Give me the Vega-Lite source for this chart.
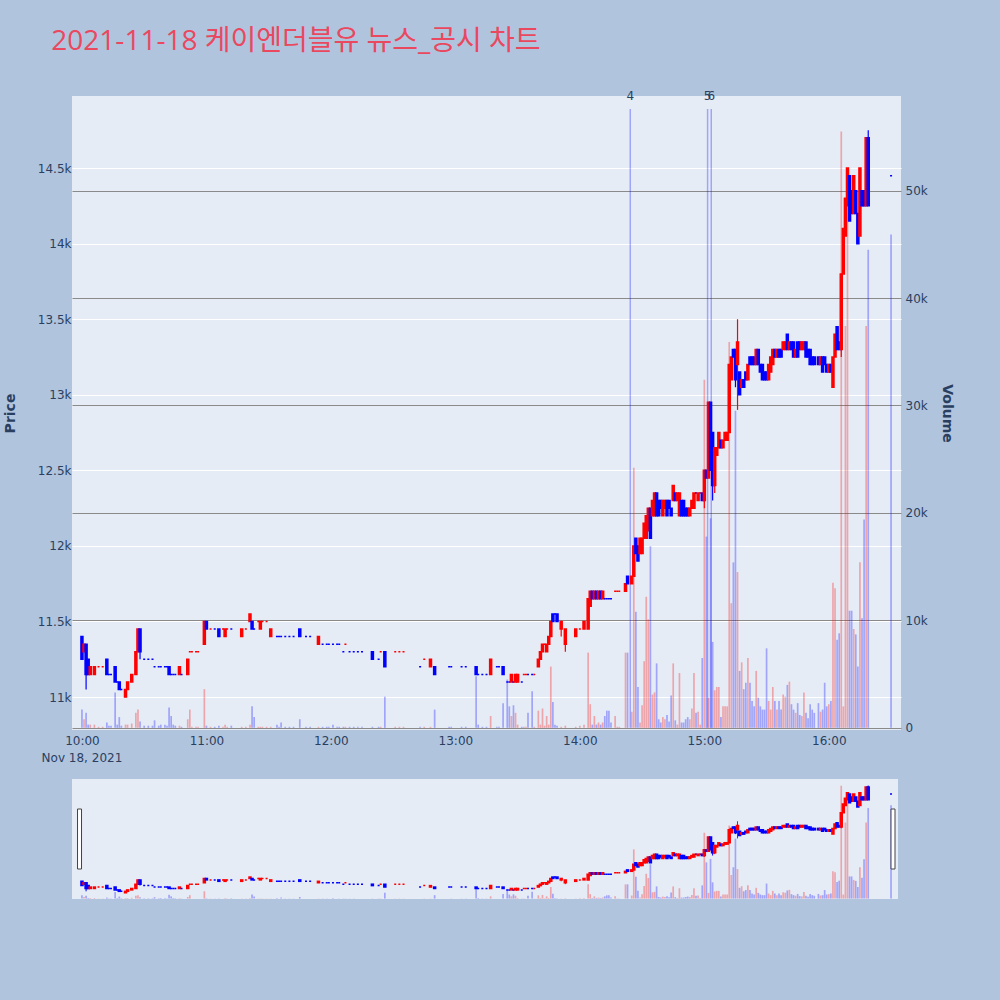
{
"$schema":"https://vega.github.io/schema/vega-lite/v6.json",
"background":"#B0C4DE",
"padding":{"left":3,"top":28,"right":47,"bottom":102},
"title":{"text":"2021-11-18 케이엔더블유 뉴스_공시 차트","anchor":"start","dx":48,"font":"Open Sans, Noto Sans CJK KR","fontSize":28,"fontWeight":"normal","color":"#E9485F","offset":34},
"config":{"view":{"fill":"#E5ECF6","stroke":null},"axis":{"labelFont":"DejaVu Sans","labelFontSize":12,"labelColor":"#2a3f5f","titleFont":"DejaVu Sans","titleFontSize":14,"titleFontWeight":"bold","titleColor":"#2a3f5f","ticks":false,"domain":false}},
"datasets":{
"k":[
{"t":"2021-11-18T10:00","o":11400,"c":11250,"v":1700},
{"t":"2021-11-18T10:01","o":11300,"c":11350,"v":800},
{"t":"2021-11-18T10:02","o":11350,"c":11150,"h":11350,"l":11050,"v":1400},
{"t":"2021-11-18T10:03","o":11250,"c":11150,"v":300},
{"t":"2021-11-18T10:04","o":11150,"c":11200,"v":300},
{"t":"2021-11-18T10:06","o":11150,"c":11200,"v":300},
{"t":"2021-11-18T10:08","o":11200,"c":11200,"v":100,"u":1},
{"t":"2021-11-18T10:10","o":11200,"c":11200,"v":100,"u":1},
{"t":"2021-11-18T10:12","o":11250,"c":11150,"v":500},
{"t":"2021-11-18T10:13","o":11150,"c":11150,"v":200},
{"t":"2021-11-18T10:14","o":11150,"c":11150,"v":200},
{"t":"2021-11-18T10:16","o":11200,"c":11100,"v":3300},
{"t":"2021-11-18T10:17","o":11100,"c":11100,"v":300},
{"t":"2021-11-18T10:18","o":11100,"c":11050,"v":1000},
{"t":"2021-11-18T10:19","o":11050,"c":11050,"v":200},
{"t":"2021-11-18T10:21","o":11000,"c":11050,"v":300},
{"t":"2021-11-18T10:22","o":11050,"c":11100,"v":300},
{"t":"2021-11-18T10:24","o":11100,"c":11150,"v":400},
{"t":"2021-11-18T10:26","o":11150,"c":11300,"v":1400},
{"t":"2021-11-18T10:27","o":11300,"c":11450,"v":1700},
{"t":"2021-11-18T10:28","o":11450,"c":11300,"h":11450,"l":11250,"v":600},
{"t":"2021-11-18T10:30","o":11250,"c":11250,"v":200},
{"t":"2021-11-18T10:32","o":11250,"c":11250,"v":200},
{"t":"2021-11-18T10:34","o":11250,"c":11250,"v":200},
{"t":"2021-11-18T10:35","o":11200,"c":11200,"v":700},
{"t":"2021-11-18T10:37","o":11200,"c":11200,"v":200},
{"t":"2021-11-18T10:38","o":11200,"c":11200,"v":300},
{"t":"2021-11-18T10:40","o":11200,"c":11200,"v":300},
{"t":"2021-11-18T10:41","o":11200,"c":11200,"v":200},
{"t":"2021-11-18T10:42","o":11200,"c":11150,"v":1900},
{"t":"2021-11-18T10:43","o":11150,"c":11150,"v":1100},
{"t":"2021-11-18T10:44","o":11150,"c":11150,"v":300},
{"t":"2021-11-18T10:45","o":11150,"c":11150,"v":200},
{"t":"2021-11-18T10:47","o":11150,"c":11200,"v":200},
{"t":"2021-11-18T10:48","o":11150,"c":11150,"v":100},
{"t":"2021-11-18T10:51","o":11150,"c":11250,"v":800},
{"t":"2021-11-18T10:52","o":11300,"c":11300,"v":1700,"u":1},
{"t":"2021-11-18T10:53","o":11300,"c":11300,"v":100,"u":1},
{"t":"2021-11-18T10:55","o":11300,"c":11300,"v":100,"u":1},
{"t":"2021-11-18T10:56","o":11300,"c":11300,"v":100,"u":1},
{"t":"2021-11-18T10:59","o":11350,"c":11500,"v":3600},
{"t":"2021-11-18T11:00","o":11500,"c":11450,"v":200},
{"t":"2021-11-18T11:02","o":11450,"c":11450,"v":100,"u":1},
{"t":"2021-11-18T11:04","o":11450,"c":11450,"v":100},
{"t":"2021-11-18T11:06","o":11450,"c":11400,"v":200},
{"t":"2021-11-18T11:08","o":11450,"c":11450,"v":100,"u":1},
{"t":"2021-11-18T11:09","o":11400,"c":11450,"v":300},
{"t":"2021-11-18T11:10","o":11450,"c":11450,"v":100,"u":1},
{"t":"2021-11-18T11:12","o":11450,"c":11450,"v":200},
{"t":"2021-11-18T11:17","o":11400,"c":11450,"v":100},
{"t":"2021-11-18T11:19","o":11450,"c":11450,"v":100,"u":1},
{"t":"2021-11-18T11:21","o":11500,"c":11550,"v":300},
{"t":"2021-11-18T11:22","o":11500,"c":11450,"v":2000},
{"t":"2021-11-18T11:23","o":11450,"c":11450,"v":1000},
{"t":"2021-11-18T11:25","o":11500,"c":11500,"v":100,"u":1},
{"t":"2021-11-18T11:26","o":11450,"c":11500,"v":100},
{"t":"2021-11-18T11:27","o":11500,"c":11500,"v":100,"u":1},
{"t":"2021-11-18T11:29","o":11500,"c":11500,"v":100,"u":1},
{"t":"2021-11-18T11:31","o":11400,"c":11450,"v":100},
{"t":"2021-11-18T11:34","o":11400,"c":11400,"v":300},
{"t":"2021-11-18T11:35","o":11400,"c":11400,"v":100},
{"t":"2021-11-18T11:36","o":11400,"c":11400,"v":500},
{"t":"2021-11-18T11:38","o":11400,"c":11400,"v":100},
{"t":"2021-11-18T11:40","o":11400,"c":11400,"v":100},
{"t":"2021-11-18T11:42","o":11400,"c":11400,"v":100},
{"t":"2021-11-18T11:45","o":11450,"c":11400,"v":800},
{"t":"2021-11-18T11:48","o":11400,"c":11400,"v":100},
{"t":"2021-11-18T11:50","o":11400,"c":11400,"v":100},
{"t":"2021-11-18T11:54","o":11350,"c":11400,"v":100},
{"t":"2021-11-18T11:56","o":11350,"c":11350,"v":100},
{"t":"2021-11-18T11:58","o":11350,"c":11350,"v":100},
{"t":"2021-11-18T11:59","o":11350,"c":11350,"v":100},
{"t":"2021-11-18T12:01","o":11350,"c":11350,"v":300},
{"t":"2021-11-18T12:03","o":11350,"c":11350,"v":100},
{"t":"2021-11-18T12:04","o":11350,"c":11350,"v":100},
{"t":"2021-11-18T12:06","o":11300,"c":11300,"v":100},
{"t":"2021-11-18T12:07","o":11350,"c":11350,"v":100,"u":1},
{"t":"2021-11-18T12:09","o":11300,"c":11300,"v":100},
{"t":"2021-11-18T12:11","o":11300,"c":11300,"v":100},
{"t":"2021-11-18T12:13","o":11300,"c":11300,"v":100},
{"t":"2021-11-18T12:15","o":11300,"c":11300,"v":100},
{"t":"2021-11-18T12:20","o":11300,"c":11250,"v":100},
{"t":"2021-11-18T12:23","o":11250,"c":11250,"v":100},
{"t":"2021-11-18T12:24","o":11300,"c":11300,"v":100,"u":1},
{"t":"2021-11-18T12:26","o":11300,"c":11200,"v":2900},
{"t":"2021-11-18T12:31","o":11300,"c":11300,"v":100,"u":1},
{"t":"2021-11-18T12:33","o":11300,"c":11300,"v":100,"u":1},
{"t":"2021-11-18T12:35","o":11300,"c":11300,"v":100,"u":1},
{"t":"2021-11-18T12:43","o":11200,"c":11200,"v":100},
{"t":"2021-11-18T12:45","o":11250,"c":11250,"v":100,"u":1},
{"t":"2021-11-18T12:48","o":11200,"c":11250,"v":100},
{"t":"2021-11-18T12:50","o":11200,"c":11150,"v":1700},
{"t":"2021-11-18T12:57","o":11200,"c":11200,"v":100},
{"t":"2021-11-18T12:58","o":11200,"c":11200,"v":100},
{"t":"2021-11-18T13:03","o":11200,"c":11200,"v":100},
{"t":"2021-11-18T13:05","o":11200,"c":11200,"v":100},
{"t":"2021-11-18T13:10","o":11200,"c":11150,"v":4800},
{"t":"2021-11-18T13:11","o":11150,"c":11150,"v":300},
{"t":"2021-11-18T13:13","o":11150,"c":11150,"v":100},
{"t":"2021-11-18T13:15","o":11150,"c":11150,"v":100},
{"t":"2021-11-18T13:17","o":11150,"c":11250,"v":1100},
{"t":"2021-11-18T13:20","o":11200,"c":11200,"v":100},
{"t":"2021-11-18T13:21","o":11200,"c":11200,"v":100},
{"t":"2021-11-18T13:23","o":11200,"c":11150,"v":2300},
{"t":"2021-11-18T13:25","o":11100,"c":11100,"v":4500},
{"t":"2021-11-18T13:26","o":11100,"c":11100,"v":2000},
{"t":"2021-11-18T13:27","o":11100,"c":11150,"v":1100},
{"t":"2021-11-18T13:28","o":11100,"c":11100,"v":2100},
{"t":"2021-11-18T13:29","o":11100,"c":11150,"v":1400},
{"t":"2021-11-18T13:30","o":11100,"c":11150,"v":300},
{"t":"2021-11-18T13:32","o":11100,"c":11100,"v":100},
{"t":"2021-11-18T13:33","o":11150,"c":11150,"v":100,"u":1},
{"t":"2021-11-18T13:34","o":11150,"c":11150,"v":100,"u":1},
{"t":"2021-11-18T13:35","o":11150,"c":11150,"v":1400},
{"t":"2021-11-18T13:37","o":11150,"c":11150,"v":3400},
{"t":"2021-11-18T13:38","o":11150,"c":11150,"v":100,"u":1},
{"t":"2021-11-18T13:40","o":11200,"c":11250,"v":1600},
{"t":"2021-11-18T13:41","o":11250,"c":11300,"v":300},
{"t":"2021-11-18T13:42","o":11300,"c":11350,"v":1800},
{"t":"2021-11-18T13:43","o":11350,"c":11350,"v":200,"u":1},
{"t":"2021-11-18T13:44","o":11300,"c":11350,"v":1100},
{"t":"2021-11-18T13:45","o":11350,"c":11400,"v":300},
{"t":"2021-11-18T13:46","o":11400,"c":11500,"v":5700},
{"t":"2021-11-18T13:47","o":11550,"c":11500,"v":2400},
{"t":"2021-11-18T13:48","o":11550,"c":11550,"v":300},
{"t":"2021-11-18T13:49","o":11550,"c":11500,"v":200},
{"t":"2021-11-18T13:51","o":11450,"c":11500,"h":11500,"l":11400,"v":100},
{"t":"2021-11-18T13:53","o":11350,"c":11450,"h":11450,"l":11300,"v":200},
{"t":"2021-11-18T13:58","o":11400,"c":11450,"v":100},
{"t":"2021-11-18T14:00","o":11450,"c":11450,"v":200,"u":1},
{"t":"2021-11-18T14:02","o":11450,"c":11500,"v":300},
{"t":"2021-11-18T14:04","o":11450,"c":11650,"v":7000},
{"t":"2021-11-18T14:05","o":11600,"c":11700,"v":2200},
{"t":"2021-11-18T14:06","o":11700,"c":11650,"v":300},
{"t":"2021-11-18T14:07","o":11650,"c":11700,"v":1100},
{"t":"2021-11-18T14:08","o":11700,"c":11650,"v":300},
{"t":"2021-11-18T14:09","o":11650,"c":11700,"v":500},
{"t":"2021-11-18T14:10","o":11700,"c":11650,"v":300},
{"t":"2021-11-18T14:11","o":11650,"c":11700,"v":500},
{"t":"2021-11-18T14:12","o":11650,"c":11650,"v":1100},
{"t":"2021-11-18T14:13","o":11650,"c":11650,"v":1600},
{"t":"2021-11-18T14:14","o":11650,"c":11650,"v":1600},
{"t":"2021-11-18T14:15","o":11650,"c":11650,"v":500},
{"t":"2021-11-18T14:17","o":11700,"c":11700,"v":1100,"u":1},
{"t":"2021-11-18T14:18","o":11700,"c":11700,"v":100,"u":1},
{"t":"2021-11-18T14:19","o":11700,"c":11700,"v":100,"u":1},
{"t":"2021-11-18T14:22","o":11700,"c":11750,"v":7000},
{"t":"2021-11-18T14:23","o":11800,"c":11750,"v":7000},
{"t":"2021-11-18T14:25","o":11750,"c":11800,"v":1500},
{"t":"2021-11-18T14:26","o":11800,"c":12000,"v":24200},
{"t":"2021-11-18T14:27","o":12050,"c":11950,"v":10800},
{"t":"2021-11-18T14:28","o":12000,"c":11900,"v":3800},
{"t":"2021-11-18T14:29","o":11950,"c":12050,"v":500},
{"t":"2021-11-18T14:30","o":11950,"c":12050,"v":2100},
{"t":"2021-11-18T14:31","o":12050,"c":12150,"v":6200},
{"t":"2021-11-18T14:32","o":12050,"c":12200,"v":12200},
{"t":"2021-11-18T14:33","o":12100,"c":12250,"v":10100},
{"t":"2021-11-18T14:34","o":12250,"c":12050,"v":16900},
{"t":"2021-11-18T14:35","o":12200,"c":12300,"v":3100},
{"t":"2021-11-18T14:36","o":12200,"c":12350,"v":3300},
{"t":"2021-11-18T14:37","o":12350,"c":12200,"v":6000},
{"t":"2021-11-18T14:38","o":12300,"c":12200,"v":800},
{"t":"2021-11-18T14:39","o":12300,"c":12250,"v":500},
{"t":"2021-11-18T14:40","o":12200,"c":12300,"v":1000},
{"t":"2021-11-18T14:41","o":12250,"c":12300,"v":800},
{"t":"2021-11-18T14:42","o":12300,"c":12200,"v":1200},
{"t":"2021-11-18T14:43","o":12300,"c":12250,"v":600},
{"t":"2021-11-18T14:44","o":12250,"c":12200,"v":3000},
{"t":"2021-11-18T14:45","o":12300,"c":12400,"v":6000},
{"t":"2021-11-18T14:46","o":12350,"c":12300,"v":700},
{"t":"2021-11-18T14:47","o":12300,"c":12350,"v":300},
{"t":"2021-11-18T14:48","o":12200,"c":12350,"v":5100},
{"t":"2021-11-18T14:49","o":12300,"c":12200,"v":500},
{"t":"2021-11-18T14:50","o":12300,"c":12200,"v":500},
{"t":"2021-11-18T14:51","o":12250,"c":12200,"v":800},
{"t":"2021-11-18T14:52","o":12250,"c":12200,"v":1000},
{"t":"2021-11-18T14:53","o":12200,"c":12250,"v":800},
{"t":"2021-11-18T14:54","o":12250,"c":12300,"v":1800},
{"t":"2021-11-18T14:55","o":12250,"c":12350,"v":5100},
{"t":"2021-11-18T14:56","o":12350,"c":12350,"v":1400},
{"t":"2021-11-18T14:57","o":12300,"c":12350,"v":1500},
{"t":"2021-11-18T14:58","o":12350,"c":12350,"v":300,"u":1},
{"t":"2021-11-18T14:59","o":12350,"c":12300,"v":6500},
{"t":"2021-11-18T15:00","o":12300,"c":12500,"h":12500,"l":12250,"v":32400},
{"t":"2021-11-18T15:01","o":12500,"c":12450,"v":17800},
{"t":"2021-11-18T15:02","o":12450,"c":12950,"v":2800},
{"t":"2021-11-18T15:03","o":12950,"c":12500,"v":19500},
{"t":"2021-11-18T15:04","o":12750,"c":12400,"h":12750,"l":12300,"v":8000},
{"t":"2021-11-18T15:05","o":12400,"c":12650,"h":12650,"l":12350,"v":3500},
{"t":"2021-11-18T15:06","o":12600,"c":12650,"v":3800},
{"t":"2021-11-18T15:07","o":12650,"c":12750,"v":3800},
{"t":"2021-11-18T15:08","o":12700,"c":12650,"v":1000},
{"t":"2021-11-18T15:09","o":12650,"c":12700,"v":2000},
{"t":"2021-11-18T15:10","o":12700,"c":12750,"v":2000},
{"t":"2021-11-18T15:11","o":12700,"c":12750,"v":2000},
{"t":"2021-11-18T15:12","o":12750,"c":13200,"v":35900},
{"t":"2021-11-18T15:13","o":13100,"c":13250,"v":11600},
{"t":"2021-11-18T15:14","o":13300,"c":13250,"v":15400},
{"t":"2021-11-18T15:15","o":13300,"c":13100,"h":13300,"l":13050,"v":29500},
{"t":"2021-11-18T15:16","o":13200,"c":13350,"h":13500,"l":12900,"v":14500},
{"t":"2021-11-18T15:17","o":13150,"c":13000,"v":5300},
{"t":"2021-11-18T15:18","o":13050,"c":13100,"v":6100},
{"t":"2021-11-18T15:19","o":13100,"c":13050,"v":3600},
{"t":"2021-11-18T15:20","o":13150,"c":13100,"v":4200},
{"t":"2021-11-18T15:21","o":13100,"c":13200,"v":6500},
{"t":"2021-11-18T15:22","o":13250,"c":13200,"v":4200},
{"t":"2021-11-18T15:23","o":13250,"c":13200,"v":2500},
{"t":"2021-11-18T15:24","o":13250,"c":13200,"v":2000},
{"t":"2021-11-18T15:25","o":13200,"c":13300,"v":5300},
{"t":"2021-11-18T15:26","o":13300,"c":13200,"v":2800},
{"t":"2021-11-18T15:27","o":13200,"c":13150,"v":2000},
{"t":"2021-11-18T15:28","o":13200,"c":13100,"v":1700},
{"t":"2021-11-18T15:29","o":13150,"c":13100,"v":1700},
{"t":"2021-11-18T15:30","o":13150,"c":13100,"v":7400},
{"t":"2021-11-18T15:31","o":13100,"c":13200,"v":2500},
{"t":"2021-11-18T15:32","o":13150,"c":13250,"v":1700},
{"t":"2021-11-18T15:33","o":13200,"c":13300,"v":3800},
{"t":"2021-11-18T15:34","o":13300,"c":13250,"v":2500},
{"t":"2021-11-18T15:35","o":13250,"c":13300,"v":1700},
{"t":"2021-11-18T15:36","o":13300,"c":13250,"v":2500},
{"t":"2021-11-18T15:37","o":13300,"c":13250,"v":1700},
{"t":"2021-11-18T15:38","o":13300,"c":13350,"v":3100},
{"t":"2021-11-18T15:39","o":13300,"c":13350,"v":2900},
{"t":"2021-11-18T15:40","o":13400,"c":13300,"v":4000},
{"t":"2021-11-18T15:41","o":13300,"c":13350,"v":4300},
{"t":"2021-11-18T15:42","o":13350,"c":13300,"v":2200},
{"t":"2021-11-18T15:43","o":13350,"c":13250,"v":1700},
{"t":"2021-11-18T15:44","o":13250,"c":13300,"v":1400},
{"t":"2021-11-18T15:45","o":13350,"c":13250,"v":2300},
{"t":"2021-11-18T15:46","o":13350,"c":13300,"v":1200},
{"t":"2021-11-18T15:47","o":13300,"c":13350,"v":1100},
{"t":"2021-11-18T15:48","o":13300,"c":13350,"v":3300},
{"t":"2021-11-18T15:49","o":13350,"c":13250,"v":1400},
{"t":"2021-11-18T15:50","o":13300,"c":13250,"v":900},
{"t":"2021-11-18T15:51","o":13300,"c":13200,"v":2200},
{"t":"2021-11-18T15:52","o":13250,"c":13200,"v":1700},
{"t":"2021-11-18T15:53","o":13250,"c":13200,"v":1400},
{"t":"2021-11-18T15:55","o":13250,"c":13200,"v":2300},
{"t":"2021-11-18T15:56","o":13200,"c":13250,"v":1500},
{"t":"2021-11-18T15:57","o":13250,"c":13150,"v":1700},
{"t":"2021-11-18T15:58","o":13250,"c":13200,"v":4200},
{"t":"2021-11-18T15:59","o":13200,"c":13150,"v":2000},
{"t":"2021-11-18T16:00","o":13150,"c":13200,"v":2200},
{"t":"2021-11-18T16:01","o":13200,"c":13150,"v":2500},
{"t":"2021-11-18T16:02","o":13050,"c":13250,"h":13250,"l":13050,"v":13500},
{"t":"2021-11-18T16:03","o":13250,"c":13400,"v":13000},
{"t":"2021-11-18T16:04","o":13450,"c":13300,"v":8200},
{"t":"2021-11-18T16:05","o":13350,"c":13300,"v":8800},
{"t":"2021-11-18T16:06","o":13300,"c":13800,"h":13800,"l":13250,"v":55500},
{"t":"2021-11-18T16:07","o":13800,"c":14100,"v":2000},
{"t":"2021-11-18T16:08","o":14050,"c":14300,"v":37400},
{"t":"2021-11-18T16:09","o":14250,"c":14500,"v":52000},
{"t":"2021-11-18T16:10","o":14450,"c":14150,"v":10900},
{"t":"2021-11-18T16:11","o":14350,"c":14200,"v":10900},
{"t":"2021-11-18T16:12","o":14200,"c":14450,"v":9200},
{"t":"2021-11-18T16:13","o":14350,"c":14200,"v":8700},
{"t":"2021-11-18T16:14","o":14200,"c":14000,"v":5700},
{"t":"2021-11-18T16:15","o":14050,"c":14500,"v":15400},
{"t":"2021-11-18T16:16","o":14350,"c":14250,"v":10200},
{"t":"2021-11-18T16:17","o":14350,"c":14250,"v":19400},
{"t":"2021-11-18T16:18","o":14250,"c":14700,"v":37400},
{"t":"2021-11-18T16:19","o":14700,"c":14250,"h":14750,"l":14250,"v":44500},
{"t":"2021-11-18T16:30","o":14450,"c":14450,"v":45900}
],
"news":[
{"t":"2021-11-18T14:24:18","label":"4"},
{"t":"2021-11-18T15:01:34","label":"5"},
{"t":"2021-11-18T15:03:20","label":"6"}
],
"day":[
{"t":"2021-11-18T10:00","d":"Nov 18, 2021"}
],
"hnd":[
{"t":"2021-11-18T09:58:50"},
{"t":"2021-11-18T16:30:57"}
]
},
"spacing":15,
"resolve":{"scale":{"x":"independent","y":"independent"}},
"vconcat":[
{
"width":829,"height":634,
"data":{"name":"k"},
"encoding":{"x":{"field":"t","type":"temporal","title":null,
"scale":{"domain":[{"year":2021,"month":11,"date":18,"hours":9,"minutes":57,"seconds":37},{"year":2021,"month":11,"date":18,"hours":16,"minutes":32,"seconds":23}]},
"axis":{"grid":false,"values":[{"year":2021,"month":11,"date":18,"hours":10},{"year":2021,"month":11,"date":18,"hours":11},{"year":2021,"month":11,"date":18,"hours":12},{"year":2021,"month":11,"date":18,"hours":13},{"year":2021,"month":11,"date":18,"hours":14},{"year":2021,"month":11,"date":18,"hours":15},{"year":2021,"month":11,"date":18,"hours":16}],"format":"%H:%M","labelFlush":false,"labelPadding":5}}},
"layer":[
{"layer":[
{"mark":{"type":"bar","size":1.7,"opacity":0.3},
"encoding":{"y":{"field":"v","type":"quantitative","stack":null,"scale":{"domain":[-200,58800],"nice":false,"zero":false},
"axis":{"orient":"right","title":"Volume","values":[0,10000,20000,30000,40000,50000],"labelExpr":"datum.value == 0 ? '0' : (datum.value / 1000) + 'k'","grid":true,"gridColor":"#8a8a8a","gridWidth":1,"labelPadding":4,"titlePadding":12}},
"color":{"condition":{"test":"datum.c > datum.o || (datum.c == datum.o && datum.u == 1)","value":"#FF0000"},"value":"#0000FF"}}},
{"data":{"name":"news"},"mark":{"type":"rule","color":"#0000FF","opacity":0.3,"strokeWidth":1.5},
"encoding":{"y":{"datum":57600,"type":"quantitative"},"y2":{"datum":0}}},
{"data":{"name":"news"},"mark":{"type":"text","font":"DejaVu Sans","fontSize":12,"color":"#2a3f5f","baseline":"middle"},
"encoding":{"y":{"datum":58800,"type":"quantitative"},"text":{"field":"label"}}}
]},
{"layer":[
{"transform":[{"filter":{"field":"h","valid":true}}],"mark":{"type":"rule","strokeWidth":1.2},
"encoding":{"y":{"field":"l","type":"quantitative","scale":{"domain":[10782,14977],"nice":false,"zero":false},
"axis":{"orient":"left","title":"Price","values":[11000,11500,12000,12500,13000,13500,14000,14500],"labelExpr":"(datum.value / 1000) + 'k'","grid":true,"gridColor":"#FFFFFF","gridWidth":1,"labelPadding":1,"titlePadding":20}},
"y2":{"field":"h"},
"color":{"condition":{"test":"datum.c > datum.o || (datum.c == datum.o && datum.u == 1)","value":"#FF0000"},"value":"#0000FF"}}},
{"mark":{"type":"bar","size":2,"strokeWidth":1.5},
"encoding":{"y":{"field":"o","type":"quantitative","title":"Price"},
"y2":{"field":"c"},
"color":{"condition":{"test":"datum.c > datum.o || (datum.c == datum.o && datum.u == 1)","value":"#FF0000"},"value":"#0000FF"},
"stroke":{"condition":{"test":"datum.c > datum.o || (datum.c == datum.o && datum.u == 1)","value":"#FF0000"},"value":"#0000FF"}}},
{"data":{"name":"day"},"mark":{"type":"text","font":"DejaVu Sans","fontSize":12,"color":"#2a3f5f","baseline":"middle"},
"encoding":{"y":{"datum":10599,"type":"quantitative"},"text":{"field":"d"}}}
]}
],
"resolve":{"scale":{"y":"independent"}}
},
{
"width":826,"height":120,
"data":{"name":"k"},
"encoding":{"x":{"field":"t","type":"temporal","axis":null,
"scale":{"domain":[{"year":2021,"month":11,"date":18,"hours":9,"minutes":57,"seconds":37},{"year":2021,"month":11,"date":18,"hours":16,"minutes":30,"seconds":57}]}}},
"layer":[
{"mark":{"type":"bar","size":1.7,"opacity":0.3},
"encoding":{"y":{"field":"v","type":"quantitative","stack":null,"scale":{"domain":[-200,58800],"nice":false,"zero":false},"axis":null},
"color":{"condition":{"test":"datum.c > datum.o || (datum.c == datum.o && datum.u == 1)","value":"#FF0000"},"value":"#0000FF"}}},
{"layer":[
{"transform":[{"filter":{"field":"h","valid":true}}],"mark":{"type":"rule","strokeWidth":1},
"encoding":{"y":{"field":"l","type":"quantitative","scale":{"domain":[10782,14977],"nice":false,"zero":false},"axis":null},"y2":{"field":"h"},
"color":{"condition":{"test":"datum.c > datum.o || (datum.c == datum.o && datum.u == 1)","value":"#FF0000"},"value":"#0000FF"}}},
{"mark":{"type":"bar","size":2,"strokeWidth":1.5},
"encoding":{"y":{"field":"o","type":"quantitative"},"y2":{"field":"c"},
"color":{"condition":{"test":"datum.c > datum.o || (datum.c == datum.o && datum.u == 1)","value":"#FF0000"},"value":"#0000FF"},
"stroke":{"condition":{"test":"datum.c > datum.o || (datum.c == datum.o && datum.u == 1)","value":"#FF0000"},"value":"#0000FF"}}}
]},
{"data":{"name":"hnd"},"mark":{"type":"bar","size":4,"fill":"#FFFFFF","stroke":"#444444","strokeWidth":1},
"encoding":{"y":{"datum":0.25,"type":"quantitative","scale":{"domain":[0,1]},"axis":null},"y2":{"datum":0.75}}}
],
"resolve":{"scale":{"y":"independent"}}
}
]
}
